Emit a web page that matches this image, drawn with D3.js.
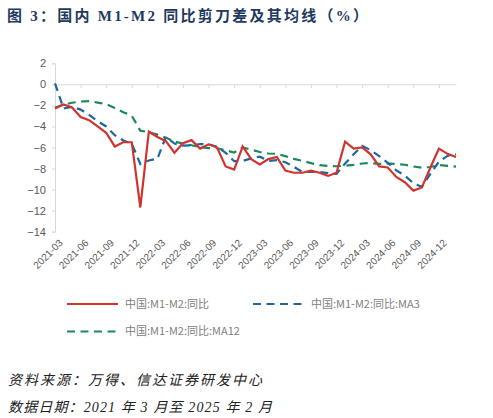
<!DOCTYPE html>
<html>
<head>
<meta charset="utf-8">
<script src="https://cdn.jsdelivr.net/npm/d3@7"></script>
<style>
  body { margin: 0; background: #fff; }
  svg { display: block; }
  .axis path, .axis line { stroke: #d9d9d9; }
  .axis text { fill: #595959; font-family: "Liberation Sans", Arial, sans-serif; }
</style>
</head>
<body>
<svg id="chart" width="493" height="418"></svg>
<script>
// ========== DATA ==========
const months = [
  "2021-03","2021-04","2021-05","2021-06","2021-07","2021-08","2021-09","2021-10","2021-11","2021-12",
  "2022-01","2022-02","2022-03","2022-04","2022-05","2022-06","2022-07","2022-08","2022-09","2022-10","2022-11","2022-12",
  "2023-01","2023-02","2023-03","2023-04","2023-05","2023-06","2023-07","2023-08","2023-09","2023-10","2023-11","2023-12",
  "2024-01","2024-02","2024-03","2024-04","2024-05","2024-06","2024-07","2024-08","2024-09","2024-10","2024-11","2024-12",
  "2025-01","2025-02"
];

// 中国:M1-M2:同比
const spread = [
  -2.3, -1.9, -2.2, -3.1, -3.4, -4.0, -4.6, -5.9, -5.5, -5.5,
  -11.7, -4.5, -5.0, -5.4, -6.5, -5.6, -5.3, -6.1, -5.7, -6.0, -7.8, -8.1,
  -5.9, -7.1, -7.6, -7.1, -6.9, -8.2, -8.4, -8.4, -8.2, -8.4, -8.7, -8.4,
  -5.45, -6.1, -6.0, -6.65, -7.8, -7.9, -8.8, -9.3, -10.1, -9.8, -7.9, -6.1,
  -6.6, -6.9
];

// 中国:M1-M2:同比:MA3
const ma3 = [
  0.1, -2.3, -2.13, -2.4, -2.9, -3.5, -4.0, -4.83, -5.33, -5.63,
  -7.57, -7.23, -7.07, -4.97, -5.63, -5.83, -5.8, -5.67, -5.7, -5.93, -6.5, -7.3,
  -7.27, -7.03, -6.87, -7.27, -7.2, -7.4, -7.83, -8.33, -8.33, -8.33, -8.43, -8.5,
  -7.52, -6.65, -5.85, -6.25, -6.82, -7.45, -8.17, -8.67, -9.4, -9.73, -8.5, -7.35,
  -6.8, -6.65
];

// 中国:M1-M2:同比:MA12
const ma12 = [
  -2.23, -1.93, -1.75, -1.63, -1.59, -1.73, -1.88, -2.25, -2.65, -2.98,
  -4.4, -4.55, -4.78, -5.07, -5.43, -5.63, -5.79, -5.97, -6.06, -6.07, -6.26, -6.48,
  -5.99, -6.21, -6.43, -6.57, -6.6, -6.82, -7.08, -7.27, -7.48, -7.68, -7.75, -7.78,
  -7.74, -7.65, -7.52, -7.48, -7.56, -7.53, -7.57, -7.64, -7.8, -7.92, -7.85, -7.66,
  -7.75, -7.82
];

const yTicks = [2, 0, -2, -4, -6, -8, -10, -12, -14];
const xTickLabels = ["2021-03","2021-06","2021-09","2021-12","2022-03","2022-06","2022-09","2022-12",
  "2023-03","2023-06","2023-09","2023-12","2024-03","2024-06","2024-09","2024-12"];

const seriesNames = ["中国:M1-M2:同比", "中国:M1-M2:同比:MA3", "中国:M1-M2:同比:MA12"];
const seriesColors = ["#d0342c", "#1a67a3", "#1b8a5a"];

// ========== SCALES ==========
const svg = d3.select("#chart");

const x = d3.scalePoint().domain(months).range([55, 456]);
const y = d3.scaleLinear().domain([-14, 2]).range([231.7, 63.3]);

// ========== TITLE ==========
svg.append("text")
  .attr("x", 7).attr("y", 20.5)
  .attr("textLength", 361).attr("lengthAdjust", "spacing")
  .style("font-family", "'Liberation Serif', 'Noto Sans CJK SC', serif")
  .style("font-weight", "bold").style("font-size", "15px")
  .style("fill", "#1f3a5f")
  .text("图 3：国内 M1-M2 同比剪刀差及其均线（%）");

// ========== AXES ==========
const yAxis = svg.append("g")
  .attr("class", "axis")
  .attr("transform", "translate(55,0)")
  .call(d3.axisLeft(y).tickValues(yTicks).tickSize(3).tickPadding(6).tickFormat(d3.format("d")));
yAxis.selectAll("text").style("font-size", "11px");

// zero line with tick marks every 3 months
svg.append("g")
  .attr("class", "axis")
  .attr("transform", `translate(0,${y(0)})`)
  .call(d3.axisBottom(x).tickValues(xTickLabels).tickSize(4).tickSizeOuter(0).tickFormat(""));

// category labels at bottom
const xLabels = svg.append("g").attr("class", "axis");
xLabels.selectAll("text")
  .data(xTickLabels)
  .join("text")
  .attr("transform", d => `translate(${x(d) + 6},${241}) rotate(-45)`)
  .attr("text-anchor", "end")
  .attr("dy", "0.35em")
  .style("font-size", "10px")
  .text(d => d);

// ========== LINES ==========
const line = d3.line().x((d, i) => x(months[i])).y(d => y(d));

const allSeries = [ma12, ma3, spread];
const styles = [
  { color: seriesColors[2], dash: "8,5.5" },
  { color: seriesColors[1], dash: "8,5.5" },
  { color: seriesColors[0], dash: null }
];

allSeries.forEach((s, k) => {
  svg.append("path")
    .datum(s)
    .attr("fill", "none")
    .attr("stroke", styles[k].color)
    .attr("stroke-width", 2.2)
    .attr("stroke-dasharray", styles[k].dash)
    .attr("d", line);
});

// ========== LEGEND ==========
const legendItems = [
  { name: seriesNames[0], color: seriesColors[0], dash: null, x: 67, y: 304 },
  { name: seriesNames[1], color: seriesColors[1], dash: "8,5.5", x: 253, y: 304 },
  { name: seriesNames[2], color: seriesColors[2], dash: "8,5.5", x: 67, y: 331.5 }
];

const legend = svg.append("g");
legendItems.forEach(item => {
  legend.append("line")
    .attr("x1", item.x).attr("x2", item.x + 51)
    .attr("y1", item.y).attr("y2", item.y)
    .attr("stroke", item.color)
    .attr("stroke-width", 2.2)
    .attr("stroke-dasharray", item.dash);
  legend.append("text")
    .attr("x", item.x + 58).attr("y", item.y)
    .attr("dy", "0.35em")
    .style("font-family", "'Noto Sans CJK SC', sans-serif")
    .style("font-size", "11px")
    .style("fill", "#7f7f7f")
    .text(item.name);
});

// ========== FOOTER ==========
const footer = [
  { text: "资料来源：万得、信达证券研发中心", y: 385, len: 254 },
  { text: "数据日期：2021 年 3 月至 2025 年 2 月", y: 411.5, len: 264 }
];
footer.forEach(f => {
  svg.append("text")
    .attr("x", 8).attr("y", f.y)
    .attr("textLength", f.len).attr("lengthAdjust", "spacing")
    .style("font-family", "'Liberation Serif', 'Noto Sans CJK SC', serif")
    .style("font-style", "italic")
    .style("font-size", "14px")
    .style("fill", "#222")
    .text(f.text);
});
</script>
</body>
</html>
